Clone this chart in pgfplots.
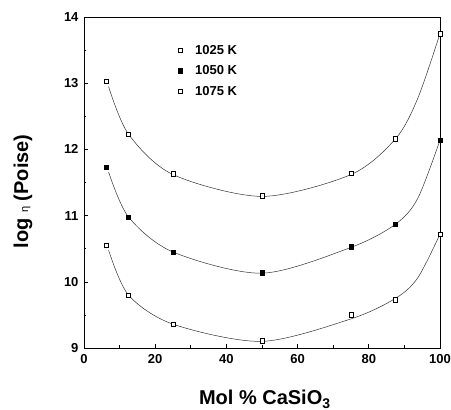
\documentclass[border=0pt]{standalone}
\usepackage{fontspec}
\setmainfont{Liberation Sans}
\usepackage{pgfplots}
\pgfplotsset{compat=1.18}
\begin{document}
\begin{tikzpicture}
\useasboundingbox (-84pt,-62pt) rectangle (367pt,348pt);
\begin{axis}[
  at={(0,0)}, anchor=south west,
  scale only axis, width=356pt, height=331pt,
  xmin=0, xmax=100, ymin=9, ymax=14,
  xtick={0,20,...,100}, minor xtick={10,30,...,90},
  ytick={9,10,...,14}, minor ytick={9.5,10.5,...,13.5},
  tick align=inside, tick pos=left,
  major tick length=4pt, minor tick length=2.5pt,
  axis line style={line width=0.9pt},
  tick style={line width=0.6pt, black},
  /pgf/number format/assume math mode=true,
  tick label style={font=\fontsize{13}{15}\selectfont\bfseries},
  yticklabel style={xshift=-2pt},
  xticklabel style={yshift=-3pt},
  xlabel={\textbf{Mol \% CaSiO\textsubscript{3}}},
  ylabel={\textbf{log {\mdseries\fontsize{11}{12}\selectfont η} (Poise)}},
  label style={font=\fontsize{20}{24}\selectfont},
  xlabel style={at={(axis description cs:0.508,-0.172)}, anchor=base},
  ylabel style={at={(axis description cs:-0.171,0.473)}, anchor=center},
  legend style={at={(axis cs:26.3,13.61)}, anchor=north west, draw=none, fill=none,
    font=\fontsize{13}{15}\selectfont\bfseries, row sep=6pt, inner sep=0pt,
    /tikz/every odd column/.append style={column sep=11pt}},
  legend cell align=left,
]
% fitted curves
\addplot[smooth, line width=0.5pt, black!80, forget plot] coordinates {
 (6.9,12.95) (12.5,12.23) (25,11.62) (50,11.29) (75,11.62) (87.5,12.16) (93.75,12.77) (100,13.75)};
\addplot[smooth, line width=0.5pt, black!80, forget plot] coordinates {
 (6.9,11.66) (12.5,10.98) (25,10.45) (50,10.13) (75,10.52) (87.5,10.87) (93.75,11.26) (100,12.14)};
\addplot[smooth, line width=0.5pt, black!80, forget plot] coordinates {
 (6.9,10.48) (12.5,9.80) (25,9.36) (50,9.10) (75,9.44) (87.5,9.75) (93.75,10.06) (100,10.72)};
% data
\addplot[only marks, mark=square*, mark size=2.2pt, mark options={fill=white, draw=black, line width=0.5pt}] coordinates {
 (6.25,13.03) (12.5,12.23) (25,11.63) (50,11.30) (75,11.64) (87.5,12.16) (100,13.75)};
\addlegendentry{1025 K}
\addplot[only marks, mark=square*, mark size=2.2pt, mark options={fill=black, draw=black}] coordinates {
 (6.25,11.73) (12.5,10.98) (25,10.45) (50,10.14) (75,10.53) (87.5,10.87) (100,12.14)};
\addlegendentry{1050 K}
\addplot[only marks, mark=square*, mark size=2.2pt, mark options={fill=white, draw=black, line width=0.5pt}] coordinates {
 (6.25,10.55) (12.5,9.80) (25,9.36) (50,9.11) (75,9.50) (87.5,9.73) (100,10.72)};
\addlegendentry{1075 K}
\end{axis}
\end{tikzpicture}
\end{document}
